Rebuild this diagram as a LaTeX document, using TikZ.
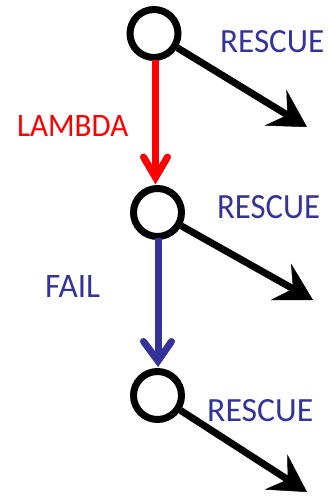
\documentclass[tikz,border=0pt]{standalone}
\usepackage{fontspec}
\setmainfont{Carlito}
\usetikzlibrary{arrows.meta}
\definecolor{fblue}{RGB}{51,51,153}
\tikzset{
  state/.style={circle, draw=black, line width=7pt, minimum size=48pt, inner sep=0pt},
  rescue/.style={-{Stealth[length=37pt, width=42pt, inset=14pt, line width=0.5pt]}, black, line width=7pt},
  shaft/.style={line width=7pt},
  chevron/.style={line width=7pt, line cap=round, line join=miter},
  lbl/.style={inner sep=0pt, anchor=base west},
}
\newcommand{\fitlbl}[3]{\resizebox{#1pt}{#2pt}{#3}}
\begin{document}
\begin{tikzpicture}[x=1pt,y=-1pt]
\useasboundingbox (0,0) rectangle (328,498);
% states
\node[state] (c1) at (154,33.5) {};
\node[state] (c2) at (157.5,212.5) {};
\node[state] (c3) at (157.5,395.5) {};
% rescue targets
\coordinate (t1) at (307,127);
\coordinate (t2) at (313,300);
\coordinate (t3) at (307,492);
\draw[rescue] (c1) -- (t1);
\draw[rescue] (c2) -- (t2);
\draw[rescue] (c3) -- (t3);
% lambda arrow (red)
\coordinate (r0) at (155.5,60);
\coordinate (rv) at (155.5,177.5);
\coordinate (rl) at (143.5,157);
\coordinate (rr) at (167.5,157);
\draw[red, shaft] (r0) -- (rv);
\draw[red, chevron] (rl) -- (rv) -- (rr);
% fail arrow (blue)
\coordinate (b0) at (158,238);
\coordinate (bv) at (158,361);
\coordinate (bl) at (143.5,341.5);
\coordinate (br) at (171.5,341.5);
\draw[fblue, shaft] (b0) -- (bv);
\draw[fblue, chevron] (bl) -- (bv) -- (br);
% labels
\node[lbl, text=fblue] (l1) at (220,52) {\fitlbl{104}{22}{RESCUE}};
\node[lbl, text=fblue] (l2) at (217,218) {\fitlbl{103}{23}{RESCUE}};
\node[lbl, text=fblue] (l3) at (207,421) {\fitlbl{106}{22}{RESCUE}};
\node[lbl, text=red] (l4) at (17,136) {\fitlbl{111}{21}{LAMBDA}};
\node[lbl, text=fblue] (l5) at (45,297) {\fitlbl{55}{22}{FAIL}};
\end{tikzpicture}
\end{document}
